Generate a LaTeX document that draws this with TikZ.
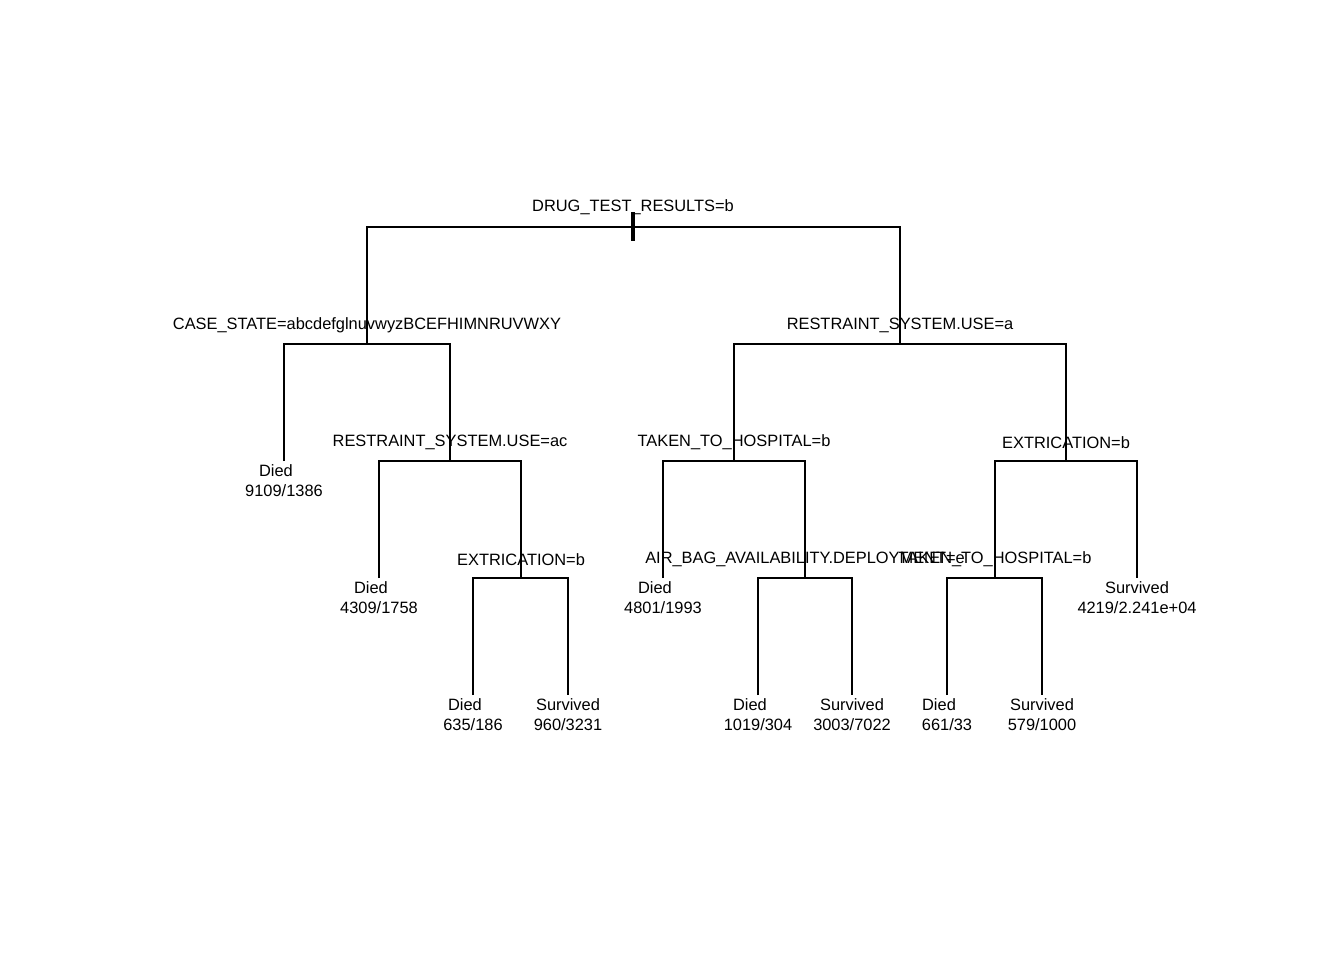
\documentclass[tikz,border=0pt]{standalone}
\usepackage{fontspec}
\setmainfont{Liberation Sans}
\begin{document}
\begin{tikzpicture}[x=0.75pt,y=-0.75pt,
  edge/.style={line width=1.5pt},
  lab/.style={anchor=base,inner sep=0pt,font=\fontsize{12.3}{14}\selectfont}]
\useasboundingbox (0,0) rectangle (1344,960);
% split points (x at the node, y at its bar)
\coordinate (n1) at (633,227);
\coordinate (n2) at (367,344);
\coordinate (n3) at (900,344);
\coordinate (n5) at (450,461);
\coordinate (n6) at (734,461);
\coordinate (n7) at (1066,461);
\coordinate (n11) at (521,578);
\coordinate (n13) at (805,578);
\coordinate (n14) at (995,578);
% leaf tops
\coordinate (n4) at (284,461);
\coordinate (n10) at (379,578);
\coordinate (n22) at (473,695);
\coordinate (n23) at (568,695);
\coordinate (n12) at (663,578);
\coordinate (n26) at (758,695);
\coordinate (n27) at (852,695);
\coordinate (n28) at (947,695);
\coordinate (n29) at (1042,695);
\coordinate (n15) at (1137,578);
% root tick
\coordinate (r0) at (633,212);
\coordinate (r1) at (633,241);
\draw[line width=2.4pt] (r0) -- (r1);
% branches
\draw[edge] (n2) |- (n1) -| (n3);
\draw[edge] (n4) |- (n2) -| (n5);
\draw[edge] (n6) |- (n3) -| (n7);
\draw[edge] (n10) |- (n5) -| (n11);
\draw[edge] (n22) |- (n11) -| (n23);
\draw[edge] (n12) |- (n6) -| (n13);
\draw[edge] (n26) |- (n13) -| (n27);
\draw[edge] (n28) |- (n14) -| (n29);
\draw[edge] (n14) |- (n7) -| (n15);
% split labels
\node[lab] (s1) at (633,211) {DRUG\_TEST\_RESULTS=b};
\node[lab] (s2) at (367,329.5) {CASE\_STATE=abcdefglnuvwyzBCEFHIMNRUVWXY};
\node[lab] (s3) at (900,329) {RESTRAINT\_SYSTEM.USE=a};
\node[lab] (s5) at (450,446) {RESTRAINT\_SYSTEM.USE=ac};
\node[lab] (s6) at (734,446.5) {TAKEN\_TO\_HOSPITAL=b};
\node[lab] (s7) at (1066,448) {EXTRICATION=b};
\node[lab] (s11) at (521,565.5) {EXTRICATION=b};
\node[lab] (s13) at (805,563) {AIR\_BAG\_AVAILABILITY.DEPLOYMENT=e};
\node[lab] (s14) at (995,563) {TAKEN\_TO\_HOSPITAL=b};
% leaf labels
\node[lab] (c4) at (276,476) {Died};
\node[lab] (m4) at (284,496) {9109/1386};
\node[lab] (c10) at (371,593) {Died};
\node[lab] (m10) at (379,613) {4309/1758};
\node[lab] (c22) at (465,710) {Died};
\node[lab] (m22) at (473,730) {635/186};
\node[lab] (c23) at (568,710) {Survived};
\node[lab] (m23) at (568,730) {960/3231};
\node[lab] (c12) at (655,593) {Died};
\node[lab] (m12) at (663,613) {4801/1993};
\node[lab] (c26) at (750,710) {Died};
\node[lab] (m26) at (758,730) {1019/304};
\node[lab] (c27) at (852,710) {Survived};
\node[lab] (m27) at (852,730) {3003/7022};
\node[lab] (c28) at (939,710) {Died};
\node[lab] (m28) at (947,730) {661/33};
\node[lab] (c29) at (1042,710) {Survived};
\node[lab] (m29) at (1042,730) {579/1000};
\node[lab] (c15) at (1137,593) {Survived};
\node[lab] (m15) at (1137,613) {4219/2.241e+04};
\end{tikzpicture}
\end{document}
